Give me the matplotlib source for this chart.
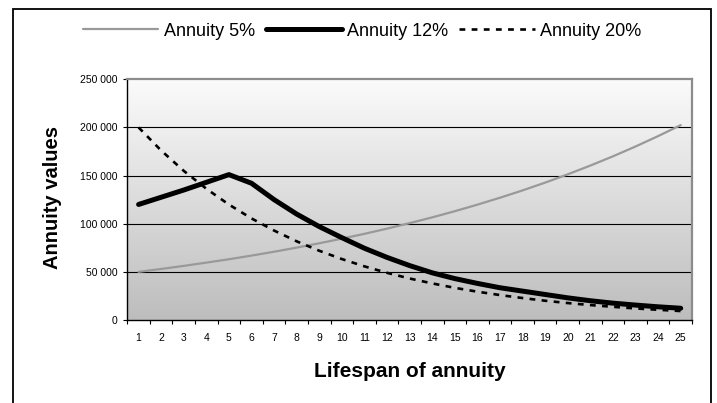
import numpy as np
import matplotlib
matplotlib.use('Agg')
from matplotlib import pyplot as plt
from matplotlib.patches import Rectangle
from matplotlib.ticker import FuncFormatter, FixedLocator

plt.rcParams['font.family'] = ['Liberation Sans', 'DejaVu Sans']

years = list(range(1, 26))
annuity_5 = [50000, 53000, 56200, 59600, 63100, 66900, 70900, 75200, 79700, 84500,
             89500, 94900, 100600, 106600, 113000, 119800, 127000, 134600, 142700, 151300,
             160400, 170000, 180200, 191000, 202400]
annuity_12 = [120000, 127500, 135000, 143000, 151000, 142000, 125000, 110000, 97000, 85500,
              74500, 65000, 56500, 49000, 43000, 38000, 33500, 30000, 26500, 23000,
              20000, 17500, 15500, 13700, 12200]
annuity_20 = [200000, 176000, 154900, 136300, 119900, 105500, 92900, 81700, 71900, 63300,
              55700, 49000, 43100, 38000, 33400, 29400, 25900, 22800, 20000, 17600,
              15500, 13700, 12000, 10600, 9300]
names = ['Annuity 5%', 'Annuity 12%', 'Annuity 20%']

fig = plt.figure(figsize=(7.17, 4.03), dpi=100)
ax = fig.add_axes([127.3/717, 1-320/403, (692-127.3)/717, (320-79.3)/403])

# gradient background of the plot area: light at top, grey at bottom
grad = np.linspace(0, 1, 256).reshape(-1, 1)
cmap = matplotlib.colors.LinearSegmentedColormap.from_list('bg', ['#fbfbfb', '#bdbdbd'])
ax.imshow(grad, cmap=cmap, aspect='auto', extent=[0.5, 25.5, 0, 250000], zorder=0,
          interpolation='bicubic')
ax.set_xlim(0.5, 25.5)
ax.set_ylim(0, 250000)

for v in [50000, 100000, 150000, 200000]:
    ax.axhline(v, color='black', lw=0.8, zorder=1)

l1, = ax.plot(years, annuity_5, color='#999999', lw=1.6, zorder=3, solid_capstyle='round')
l2, = ax.plot(years, annuity_12, color='black', lw=3.6, zorder=4, solid_capstyle='round',
              solid_joinstyle='round')
l3, = ax.plot(years, annuity_20, color='black', lw=1.9, zorder=3, dashes=(2.2, 2.4))

ax.spines['left'].set_color('black')
ax.spines['bottom'].set_color('black')
ax.spines['left'].set_linewidth(1.0)
ax.spines['bottom'].set_linewidth(1.0)
for s in ['top', 'right']:
    ax.spines[s].set_color('#8c8c8c')
    ax.spines[s].set_linewidth(1.6)

ax.set_yticks([0, 50000, 100000, 150000, 200000, 250000])
ax.yaxis.set_major_formatter(FuncFormatter(lambda v, p: f'{int(v):,}'.replace(',', ' ')))
ax.tick_params(axis='y', length=3, width=0.8, pad=4, labelsize=7.5)

ax.xaxis.set_major_locator(FixedLocator([i + 0.5 for i in range(0, 26)]))
ax.xaxis.set_major_formatter(FuncFormatter(lambda v, p: ''))
ax.xaxis.set_minor_locator(FixedLocator(years))
ax.xaxis.set_minor_formatter(FuncFormatter(lambda v, p: str(int(v))))
ax.tick_params(axis='x', which='major', length=3, width=0.8)
ax.tick_params(axis='x', which='minor', length=0, pad=9.5, labelsize=7.5)

ax.text(0.5, -0.215, 'Lifespan of annuity', transform=ax.transAxes, ha='center', va='center',
        fontsize=15, fontweight='bold')
ax.text(-0.1316, 0.511, 'Annuity values', transform=ax.transAxes, ha='center', va='center',
        rotation=90, fontsize=14.5, fontweight='bold')

fig.legend([l1, l2, l3], names, loc='center', bbox_to_anchor=(0.505, 1-31/403), ncol=3,
           frameon=False, fontsize=13, handlelength=4.2, handletextpad=0.3,
           columnspacing=0.6)

fig.patches.append(Rectangle((13/717, -0.1), (711-13)/717, 1.1-9/403, transform=fig.transFigure,
                             fill=False, edgecolor='black', lw=1.3))

fig.savefig('out.png', dpi=100)
